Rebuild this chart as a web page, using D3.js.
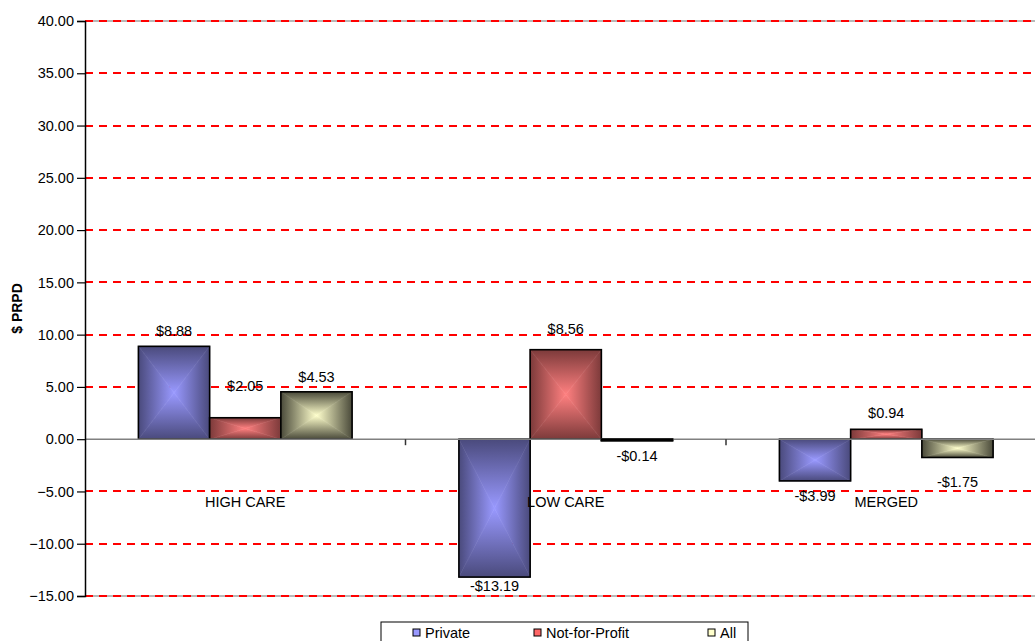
<!DOCTYPE html>
<html>
<head>
<meta charset="utf-8">
<script src="https://cdn.jsdelivr.net/npm/d3@7/dist/d3.min.js"></script>
<style>
  html, body { margin: 0; padding: 0; background: #ffffff; }
  svg { display: block; font-family: "Liberation Sans", Arial, sans-serif; }
</style>
</head>
<body>
<svg id="chart" width="1035" height="641"></svg>
<script>
// ---- data ----
const categories = ["HIGH CARE", "LOW CARE", "MERGED"];
const seriesNames = ["Private", "Not-for-Profit", "All"];
const privateValues = [8.88, -13.19, -3.99];
const nfpValues = [2.05, 8.56, 0.94];
const allValues = [4.53, -0.14, -1.75];
const yTicks = [40, 35, 30, 25, 20, 15, 10, 5, 0, -5, -10, -15];
const yTitle = "$ PRPD";

// ---- styling ----
const edgeColors = ["#4a4a7c", "#7c3a3a", "#4a4a3a"];
const centerColors = ["#9999ff", "#ff8080", "#ffffcc"];
const legendColors = ["#9999ff", "#ff6666", "#ffffcc"];
// label offsets (px) beyond the bar end, per series per category
const labelGap = [[15, 9, 15], [32, 21, 16], [15, 15, 24]];

const seriesValues = [privateValues, nfpValues, allValues];
const svg = d3.select("#chart");

const plot = { left: 85, top: 21, bottom: 596, bandW: 320.5 };
const y = d3.scaleLinear().domain([-15, 40]).range([plot.bottom, plot.top]);
const x0 = d3.scaleBand().domain(categories)
  .range([plot.left, plot.left + plot.bandW * categories.length]).padding(0);
const x1 = d3.scaleBand().domain(seriesNames)
  .range([0, x0.bandwidth()]).paddingInner(0).paddingOuter(0.75);
const plotRight = plot.left + plot.bandW * categories.length;

// gradients
const defs = svg.append("defs");
const dirs = {
  top: { x1: 0, y1: 0, x2: 0, y2: 1 },
  bottom: { x1: 0, y1: 1, x2: 0, y2: 0 },
  left: { x1: 0, y1: 0, x2: 1, y2: 0 },
  right: { x1: 1, y1: 0, x2: 0, y2: 0 }
};
seriesNames.forEach((s, i) => {
  Object.entries(dirs).forEach(([k, d]) => {
    const g = defs.append("linearGradient").attr("id", `g${i}${k}`)
      .attr("x1", d.x1).attr("y1", d.y1).attr("x2", d.x2).attr("y2", d.y2);
    g.append("stop").attr("offset", 0).attr("stop-color", edgeColors[i]);
    g.append("stop").attr("offset", 1).attr("stop-color", centerColors[i]);
  });
});

// gridlines
const grid = svg.append("g");
grid.selectAll("line.border").data([40, -15]).enter().append("line")
  .attr("class", "border")
  .attr("x1", plot.left).attr("x2", plotRight)
  .attr("y1", d => y(d)).attr("y2", d => y(d))
  .attr("stroke", "#a0a0a0").attr("stroke-width", 1.5);
grid.selectAll("line.grid").data(yTicks.filter(d => d !== 0)).enter().append("line")
  .attr("class", "grid")
  .attr("x1", plot.left).attr("x2", plotRight)
  .attr("y1", d => Math.round(y(d))).attr("y2", d => Math.round(y(d)))
  .attr("stroke", "rgb(255,0,0)").attr("stroke-width", 1.2)
  .attr("shape-rendering", "crispEdges")
  .attr("stroke-dasharray", "8,6");

// bars
const barsG = svg.append("g");
categories.forEach((c, ci) => {
  seriesNames.forEach((s, si) => {
    const v = seriesValues[si][ci];
    const bx = x0(c) + x1(s);
    const bw = x1.bandwidth();
    const yTop = y(Math.max(0, v));
    const yBot = y(Math.min(0, v));
    const cx = bx + bw / 2, cy = (yTop + yBot) / 2;
    const g = barsG.append("g");
    const tris = {
      top: [[bx, yTop], [bx + bw, yTop], [cx, cy]],
      bottom: [[bx, yBot], [bx + bw, yBot], [cx, cy]],
      left: [[bx, yTop], [bx, yBot], [cx, cy]],
      right: [[bx + bw, yTop], [bx + bw, yBot], [cx, cy]]
    };
    Object.entries(tris).forEach(([k, pts]) => {
      g.append("polygon").attr("points", pts.map(p => p.join(",")).join(" "))
        .attr("fill", `url(#g${si}${k})`)
        .attr("stroke", `url(#g${si}${k})`).attr("stroke-width", 0.6);
    });
    g.append("rect").attr("x", bx).attr("y", yTop).attr("width", bw)
      .attr("height", Math.max(0.5, yBot - yTop))
      .attr("fill", "none").attr("stroke", "#000").attr("stroke-width", 1.6);
  });
});

// zero line (category axis)
svg.append("line").attr("x1", plot.left).attr("x2", plotRight)
  .attr("y1", y(0)).attr("y2", y(0)).attr("stroke", "#808080").attr("stroke-width", 1.5);
// category ticks
svg.selectAll("line.ctick").data(categories.slice(1)).enter().append("line")
  .attr("class", "ctick")
  .attr("x1", d => x0(d)).attr("x2", d => x0(d))
  .attr("y1", y(0)).attr("y2", y(0) + 6)
  .attr("stroke", "#333").attr("stroke-width", 1.5);

// re-draw bar outlines for the tiny bar over zero line
categories.forEach((c, ci) => {
  seriesNames.forEach((s, si) => {
    const v = seriesValues[si][ci];
    if (Math.abs(v) < 0.5) {
      svg.append("rect").attr("x", x0(c) + x1(s)).attr("y", y(0))
        .attr("width", x1.bandwidth()).attr("height", y(v) - y(0))
        .attr("fill", "none").attr("stroke", "#000").attr("stroke-width", 1.6);
    }
  });
});

// y axis
const yAxis = d3.axisLeft(y).tickValues(yTicks).tickFormat(d3.format(".2f")).tickSize(8).tickPadding(3);
const ya = svg.append("g").attr("transform", `translate(${plot.left},0)`).call(yAxis);
ya.select(".domain").attr("stroke", "#000").attr("stroke-width", 1.5);
ya.selectAll(".tick line").attr("stroke", "#000").attr("stroke-width", 1.2);
ya.selectAll(".tick text").attr("font-size", "14.5px").attr("fill", "#000")
  .attr("font-family", "'Liberation Sans', Arial, sans-serif");

// y title
svg.append("text")
  .attr("transform", `translate(17,${(plot.top + plot.bottom) / 2}) rotate(-90)`)
  .attr("text-anchor", "middle").attr("dy", "0.35em")
  .attr("font-weight", "bold").attr("font-size", "14px")
  .text(yTitle);

// category labels
svg.selectAll("text.cat").data(categories).enter().append("text")
  .attr("class", "cat")
  .attr("x", d => x0(d) + x0.bandwidth() / 2).attr("y", 507)
  .attr("text-anchor", "middle").attr("font-size", "14.5px").text(d => d);

// value labels
const fmt = v => (v < 0 ? "-$" : "$") + Math.abs(v).toFixed(2);
categories.forEach((c, ci) => {
  seriesNames.forEach((s, si) => {
    const v = seriesValues[si][ci];
    const cx = x0(c) + x1(s) + x1.bandwidth() / 2;
    const gap = labelGap[si][ci];
    const cy = v >= 0 ? y(v) - gap : y(v) + gap;
    svg.append("text").attr("x", cx).attr("y", cy).attr("dy", "0.35em")
      .attr("text-anchor", "middle").attr("font-size", "14.5px").text(fmt(v));
  });
});

// legend
const leg = svg.append("g");
leg.append("rect").attr("x", 381).attr("y", 622).attr("width", 367).attr("height", 30)
  .attr("fill", "#fff").attr("stroke", "#000").attr("stroke-width", 1);
const legX = [413, 534, 708];
seriesNames.forEach((s, i) => {
  leg.append("rect").attr("x", legX[i]).attr("y", 629).attr("width", 7).attr("height", 7)
    .attr("fill", legendColors[i]).attr("stroke", "#000").attr("stroke-width", 1);
  leg.append("text").attr("x", legX[i] + 12).attr("y", 633).attr("dy", "0.35em")
    .attr("font-size", "14.5px").text(s);
});
</script>
</body>
</html>
